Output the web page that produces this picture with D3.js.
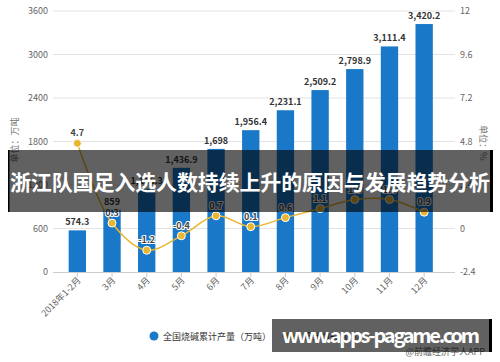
<!DOCTYPE html>
<html>
<head>
<meta charset="utf-8">
<script src="https://cdn.jsdelivr.net/npm/d3@7"></script>
<style>
  body { margin: 0; background: #fff; }
  text { font-family: "Noto Sans CJK SC", "Noto Sans", sans-serif; }
</style>
</head>
<body>
<svg id="canvas" width="500" height="362"></svg>
<script>
// data
const months = ["2018年1-2月", "3月", "4月", "5月", "6月", "7月", "8月", "9月", "10月", "11月", "12月"];
const output = [574.3, 859, 1146.3, 1436.9, 1698, 1956.4, 2231.1, 2509.2, 2798.9, 3111.4, 3420.2];
const outputLabels = ["574.3", "859", "1,146.3", "1,436.9", "1,698", "1,956.4", "2,231.1", "2,509.2", "2,798.9", "3,111.4", "3,420.2"];
const growth = [4.7, 0.3, -1.2, -0.4, 0.7, 0.1, 0.6, 1.1, 1.6, 1.6, 0.9];
const leftTicks = [0, 600, 1200, 1800, 2400, 3000, 3600];
const rightTicks = [-2.4, 0, 2.4, 4.8, 7.2, 9.6, 12];

const barColor = "#1a78c8";
const lineColor = "#e8b630";

let canvas = d3.select("#canvas");

let x = d3.scaleBand().domain(months).range([60, 441.5]).paddingInner(0.5).paddingOuter(0.25);
let yLeft = d3.scaleLinear().domain([0, 3600]).range([272, 11]);
let yRight = d3.scaleLinear().domain([-2.4, 12]).range([272, 11]);

// gridlines
canvas.append("g")
    .selectAll("line")
    .data(leftTicks.slice(1))
    .enter()
    .append("line")
    .attr("x1", 53).attr("x2", 455)
    .attr("y1", d => yLeft(d)).attr("y2", d => yLeft(d))
    .attr("stroke", "#e3e3e3");

// left axis labels
canvas.append("g")
    .selectAll("text")
    .data(leftTicks)
    .enter()
    .append("text")
    .attr("x", 48)
    .attr("y", d => yLeft(d) + 3)
    .attr("text-anchor", "end")
    .attr("font-size", 9)
    .attr("fill", "#666")
    .text(d => d);

// right axis labels
canvas.append("g")
    .selectAll("text")
    .data(rightTicks)
    .enter()
    .append("text")
    .attr("x", 460)
    .attr("y", d => yRight(d) + 3)
    .attr("font-size", 9)
    .attr("fill", "#666")
    .text(d => d);

// axis titles
canvas.append("text")
    .attr("transform", "translate(18,140) rotate(-90)")
    .attr("text-anchor", "middle")
    .attr("font-size", 9)
    .attr("fill", "#777")
    .text("单位：万吨");
canvas.append("text")
    .attr("transform", "translate(480,143) rotate(90)")
    .attr("text-anchor", "middle")
    .attr("font-size", 9)
    .attr("fill", "#777")
    .text("单位：%");

// bars
canvas.append("g")
    .selectAll("rect")
    .data(output)
    .enter()
    .append("rect")
    .attr("x", (d, i) => x(months[i]))
    .attr("width", x.bandwidth())
    .attr("y", d => yLeft(d))
    .attr("height", d => yLeft(0) - yLeft(d))
    .attr("fill", barColor);

// bar labels
canvas.append("g")
    .selectAll("text")
    .data(output)
    .enter()
    .append("text")
    .attr("x", (d, i) => x(months[i]) + x.bandwidth() / 2)
    .attr("y", d => yLeft(d) - 5)
    .attr("text-anchor", "middle")
    .attr("font-size", 9)
    .attr("font-weight", "bold")
    .attr("fill", "#333")
    .text((d, i) => outputLabels[i]);

// x axis
canvas.append("line")
    .attr("x1", 53).attr("x2", 455)
    .attr("y1", 272.5).attr("y2", 272.5)
    .attr("stroke", "#ccc");

canvas.append("g")
    .selectAll("line")
    .data(months)
    .enter()
    .append("line")
    .attr("x1", d => x(d) + x.bandwidth() / 2)
    .attr("x2", d => x(d) + x.bandwidth() / 2)
    .attr("y1", 272).attr("y2", 277)
    .attr("stroke", "#ccc");

canvas.append("g")
    .selectAll("text")
    .data(months)
    .enter()
    .append("text")
    .attr("transform", d => "translate(" + (x(d) + x.bandwidth() / 2 + 4) + ",281) rotate(-45)")
    .attr("text-anchor", "end")
    .attr("font-size", 9)
    .attr("fill", "#666")
    .text(d => d);

// growth line
let line = d3.line()
    .x((d, i) => x(months[i]) + x.bandwidth() / 2)
    .y(d => yRight(d))
    .curve(d3.curveCatmullRom);

canvas.append("path")
    .attr("d", line(growth))
    .attr("fill", "none")
    .attr("stroke", lineColor)
    .attr("stroke-width", 1.5);

canvas.append("g")
    .selectAll("circle")
    .data(growth)
    .enter()
    .append("circle")
    .attr("cx", (d, i) => x(months[i]) + x.bandwidth() / 2)
    .attr("cy", d => yRight(d))
    .attr("r", 4)
    .attr("fill", lineColor)
    .attr("stroke", "#fff")
    .attr("stroke-width", 1);

canvas.append("g")
    .selectAll("text")
    .data(growth)
    .enter()
    .append("text")
    .attr("x", (d, i) => x(months[i]) + x.bandwidth() / 2)
    .attr("y", d => yRight(d) - 7)
    .attr("text-anchor", "middle")
    .attr("font-size", 9)
    .attr("font-weight", "bold")
    .attr("fill", "#444")
    .attr("stroke", "#fff")
    .attr("stroke-width", 2)
    .attr("paint-order", "stroke")
    .text(d => d);

// legend
canvas.append("circle").attr("cx", 154).attr("cy", 336).attr("r", 4.5).attr("fill", barColor);
canvas.append("text").attr("x", 163).attr("y", 339.5).attr("font-size", 9).attr("fill", "#333").text("全国烧碱累计产量（万吨）");
canvas.append("line").attr("x1", 282).attr("x2", 298).attr("y1", 336).attr("y2", 336).attr("stroke", lineColor).attr("stroke-width", 2);
canvas.append("circle").attr("cx", 290).attr("cy", 336).attr("r", 4).attr("fill", lineColor);
canvas.append("text").attr("x", 303).attr("y", 339.5).attr("font-size", 9).attr("fill", "#333").text("累计增长（%）");

// overlay banners
canvas.append("rect")
    .attr("x", 8).attr("y", 150).attr("width", 484).attr("height", 62)
    .attr("fill", "rgba(0,0,0,0.62)");
canvas.append("rect").attr("x", 8).attr("y", 150).attr("width", 1.5).attr("height", 62).attr("fill", "#000");
canvas.append("rect").attr("x", 490).attr("y", 150).attr("width", 3).attr("height", 62).attr("fill", "#000");
canvas.append("text")
    .attr("x", 250).attr("y", 190)
    .attr("text-anchor", "middle")
    .attr("font-size", 21)
    .attr("font-weight", "bold")
    .attr("fill", "#fff")
    .attr("textLength", 480)
    .text("浙江队国足入选人数持续上升的原因与发展趋势分析");

canvas.append("text")
    .attr("x", 485).attr("y", 355)
    .attr("text-anchor", "end")
    .attr("font-size", 9)
    .attr("fill", "#666")
    .text("@前瞻经济学人APP");

canvas.append("rect")
    .attr("x", 272).attr("y", 319).attr("width", 218).attr("height", 33)
    .attr("fill", "rgba(0,0,0,0.62)");
canvas.append("rect").attr("x", 489).attr("y", 319).attr("width", 3).attr("height", 33).attr("fill", "#000");
canvas.append("text")
    .attr("x", 381).attr("y", 343)
    .attr("text-anchor", "middle")
    .attr("font-family", "Liberation Sans, sans-serif")
    .attr("font-size", 20)
    .attr("font-weight", "bold")
    .attr("fill", "#fff")
    .attr("textLength", 198)
    .text("www.apps-pagame.com");
</script>
</body>
</html>
